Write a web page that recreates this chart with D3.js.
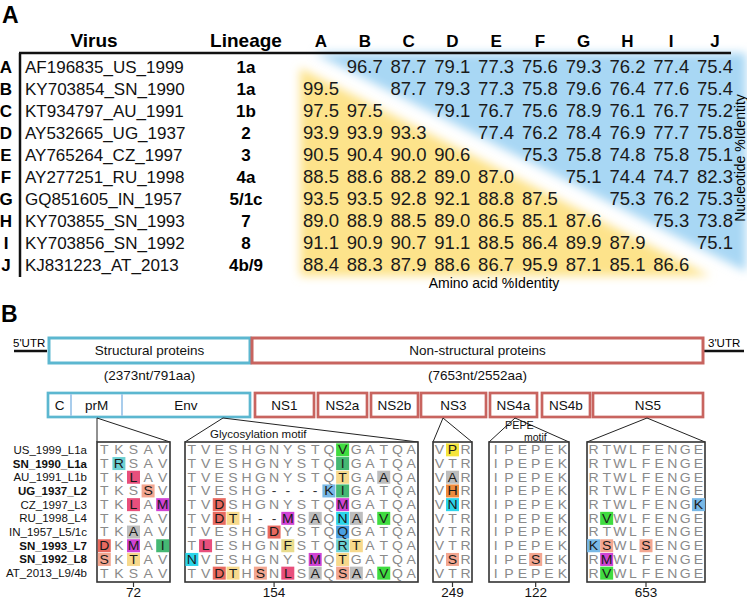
<!DOCTYPE html>
<html><head><meta charset="utf-8">
<script src="https://cdn.jsdelivr.net/npm/d3@7"></script>
<style>
body{margin:0;background:#fff;}
svg{display:block;font-family:"Liberation Sans",Arial,Helvetica,sans-serif;}
</style>
</head><body>
<svg id="chart" width="747" height="599"></svg>
<script>
// ---------------- DATA ----------------
const rowKeys = ["A","B","C","D","E","F","G","H","I","J"];
const viruses = ["AF196835_US_1999","KY703854_SN_1990","KT934797_AU_1991","AY532665_UG_1937","AY765264_CZ_1997",
  "AY277251_RU_1998","GQ851605_IN_1957","KY703855_SN_1993","KY703856_SN_1992","KJ831223_AT_2013"];
const lineages = ["1a","1a","1b","2","3","4a","5/1c","7","8","4b/9"];
// upper triangle: nucleotide %identity, lower triangle: amino acid %identity
const identity = [
  [null,96.7,87.7,79.1,77.3,75.6,79.3,76.2,77.4,75.4],
  [99.5,null,87.7,79.3,77.3,75.8,79.6,76.4,77.6,75.4],
  [97.5,97.5,null,79.1,76.7,75.6,78.9,76.1,76.7,75.2],
  [93.9,93.9,93.3,null,77.4,76.2,78.4,76.9,77.7,75.8],
  [90.5,90.4,90.0,90.6,null,75.3,75.8,74.8,75.8,75.1],
  [88.5,88.6,88.2,89.0,87.0,null,75.1,74.4,74.7,82.3],
  [93.5,93.5,92.8,92.1,88.8,87.5,null,75.3,76.2,75.3],
  [89.0,88.9,88.5,89.0,86.5,85.1,87.6,null,75.3,73.8],
  [91.1,90.9,90.7,91.1,88.5,86.4,89.9,87.9,null,75.1],
  [88.4,88.3,87.9,88.6,86.7,95.9,87.1,85.1,86.6,null]
];
const genomeParts = ["Structural proteins","Non-structural proteins"];
const genomeSizes = ["(2373nt/791aa)","(7653nt/2552aa)"];
const genes = ["C","prM","Env","NS1","NS2a","NS2b","NS3","NS4a","NS4b","NS5"];
const alignLabels = ["US_1999_L1a","SN_1990_L1a","AU_1991_L1b","UG_1937_L2","CZ_1997_L3","RU_1998_L4",
  "IN_1957_L5/1c","SN_1993_L7","SN_1992_L8","AT_2013_L9/4b"];
const alignBold = [false,true,false,true,false,false,false,true,true,false];
const regionNames = ["prM","Env","NS3","NS4a","NS5"];
const regionPositions = ["72","154","249","122","653"];
const regionTickIndex = [2,6,1,3,4];
const prMSeq = ["TKSAV","TRSAV","TKLAV","TKSSV","TKLAM","TKSAV","TKAAV","DKMAI","SKTAV","TKSAV"];
const prMMut = [".....",".t...","..p..","...s.","..p.m",".....","..a..","r.m.G","s.y..","....."];
const envSeq = ["TVESHGNYSTQVGATQA","TVESHGNYSTQIGATQA","TVESHGNYSTQTGAAQA","TVESHG----KIGATQA","TVDSHGNYSTQMGATQA",
  "TVDTH--MSAQNAAVQA","TVESHGDYSTQQGATQA","TLESHGNFSTQRTATQA","NVESHGNYSMQTGATQA","TVDTHSNLSAQSAAVQA"];
const envMut = ["...........g.....","...........G.....","...........y..a..","..........kG.....","..r........m.....",
  "..ry...m.a.ca.g..","......r....b.....",".p.....f...ty....","c........m.y.....","..ry.s.p.a.sa.g.."];
const ns3Seq = ["VPR","VTR","VAR","VHR","VNR","VTR","VTR","VTR","VSR","VTR"];
const ns3Mut = [".P.","...",".a.",".o.",".c.","...","...","...",".s.","..."];
const ns4aSeq = ["IPEPEK","IPEPEK","IPEPEK","IPEPEK","IPEPEK","IPEPEK","IPEPEK","IPEPEK","IPESEK","IPEPEK"];
const ns4aMut = ["......","......","......","......","......","......","......","......","...s..","......"];
const ns5Seq = ["RTWLFENGE","RTWLFENGE","RTWLFENGE","RTWLFENGE","RTWLFENGK","RVWLFENGE","RTWLFENGE","KSWLSENGE","RMWLFENGE","RVWLFENGE"];
const ns5Mut = [".........",".........",".........",".........","........k",".g.......",".........","ks..s....",".m.......",".g......."];

// ---------------- STYLE / LAYOUT ----------------
const mutColor = {g:"#40dc40",G:"#45b873",y:"#f7d98c",a:"#bdbdbd",k:"#78b8e6",r:"#e86a60",m:"#d143d4",
  c:"#2cd4ea",b:"#4a9fe2",t:"#6dd1d3",p:"#e84f7c",s:"#f3a690",f:"#e9dc8c",P:"#f5e53c",o:"#ef8c3e"};
const blueC = "#5cb7d0", redC = "#c8645f";
const geneX = [[48,71],[71,122],[122,250],[255,314],[318,367],[371,418],[421,486],[490,537],[542,590],[593,703]];
const regionBox = [[97,170],[185,418],[433,472],[489,569],[587,705]];
const regionApex = [97,223,443,515,647];

const svg = d3.select("#chart");
const fmt = d3.format(".1f");

// ---------------- PANEL A ----------------
const xCol = d3.scalePoint().domain(rowKeys).range([321,715]);
const yRow = d3.scalePoint().domain(rowKeys).range([66,264]);

const defs = svg.append("defs");
defs.append("filter").attr("id","soft").attr("x","-10%").attr("y","-10%").attr("width","120%").attr("height","120%")
  .append("feGaussianBlur").attr("stdDeviation",5);

const yl = xCol("A")-21, yt = yRow("A")+2, yb = yRow("J")+12;
svg.append("polygon")
  .attr("points",[[yl,yt],[yl,yb],[yl+(yb-yt)/0.507,yb]].map(p=>p.join(",")).join(" "))
  .attr("fill","#fde38b").attr("filter","url(#soft)");
const bl = xCol("A")-7, bt = 53, br = 746;
svg.append("polygon")
  .attr("points",[[bl,bt],[br,bt],[br,bt+(br-bl)*0.506]].map(p=>p.join(",")).join(" "))
  .attr("fill","#a8d7f4").attr("filter","url(#soft)");

svg.append("text").attr("x",2).attr("y",23).attr("font-size",23).attr("font-weight","bold").text("A");
svg.append("text").attr("x",94).attr("y",47).attr("text-anchor","middle").attr("font-size",19).attr("font-weight","bold").text("Virus");
svg.append("text").attr("x",246).attr("y",47).attr("text-anchor","middle").attr("font-size",19).attr("font-weight","bold").text("Lineage");
svg.append("g").selectAll("text").data(rowKeys).join("text")
  .attr("x",d=>xCol(d)).attr("y",47).attr("text-anchor","middle").attr("font-size",17).attr("font-weight","bold").text(d=>d);

svg.append("line").attr("x1",19).attr("x2",731).attr("y1",53).attr("y2",53).attr("stroke","#111").attr("stroke-width",2.5);
svg.append("line").attr("x1",20).attr("x2",20).attr("y1",53).attr("y2",277).attr("stroke","#111").attr("stroke-width",2.5);

const rowsA = svg.append("g").selectAll("g").data(rowKeys).join("g")
  .attr("transform",d=>`translate(0,${yRow(d)+6.5})`);
rowsA.append("text").attr("x",6).attr("text-anchor","middle").attr("font-size",17).attr("font-weight","bold").text(d=>d);
rowsA.append("text").attr("x",25).attr("font-size",17).attr("fill","#111").text((d,i)=>viruses[i]);
rowsA.append("text").attr("x",246).attr("text-anchor","middle").attr("font-size",17).attr("font-weight","bold").text((d,i)=>lineages[i]);
rowsA.selectAll("text.v").data((d,i)=>identity[i].map((v,j)=>({v,k:rowKeys[j]})).filter(o=>o.v!==null))
  .join("text").attr("class","v").attr("x",o=>xCol(o.k)).attr("text-anchor","middle").attr("font-size",18.5).attr("fill","#1a1a1a")
  .text(o=>fmt(o.v));

svg.append("text").attr("x",494).attr("y",288).attr("text-anchor","middle").attr("font-size",14).text("Amino acid %Identity");
svg.append("text").attr("transform","translate(745,158) rotate(-90)").attr("text-anchor","middle").attr("font-size",14).text("Nucleotide %Identity");

// ---------------- PANEL B ----------------
svg.append("text").attr("x",1).attr("y",322).attr("font-size",23).attr("font-weight","bold").text("B");

// UTRs
svg.append("text").attr("x",13).attr("y",347).attr("font-size",11.5).text("5'UTR");
svg.append("line").attr("x1",14).attr("x2",47).attr("y1",351).attr("y2",351).attr("stroke","#111").attr("stroke-width",2.7);
svg.append("text").attr("x",708).attr("y",347).attr("font-size",11.5).text("3'UTR");
svg.append("line").attr("x1",703).attr("x2",744).attr("y1",351).attr("y2",351).attr("stroke","#111").attr("stroke-width",2.7);

const genomeBox = [[49,250],[252,703]];
const gp = svg.append("g").selectAll("g").data(genomeParts).join("g");
gp.append("rect").attr("x",(d,i)=>genomeBox[i][0]).attr("width",(d,i)=>genomeBox[i][1]-genomeBox[i][0])
  .attr("y",338).attr("height",25).attr("fill","#fff").attr("stroke",(d,i)=>i?redC:blueC).attr("stroke-width",3);
gp.append("text").attr("x",(d,i)=>(genomeBox[i][0]+genomeBox[i][1])/2).attr("y",355).attr("text-anchor","middle")
  .attr("font-size",13.5).attr("fill","#111").text(d=>d);
gp.append("text").attr("x",(d,i)=>(genomeBox[i][0]+genomeBox[i][1])/2).attr("y",380).attr("text-anchor","middle")
  .attr("font-size",13.5).attr("fill","#111").text((d,i)=>genomeSizes[i]);

// genes
const gg = svg.append("g");
gg.append("rect").attr("x",48).attr("y",393).attr("width",202).attr("height",24).attr("fill","#fff").attr("stroke",blueC).attr("stroke-width",2.7);
gg.selectAll("line.div").data([1,2]).join("line").attr("class","div")
  .attr("x1",i=>geneX[i][0]).attr("x2",i=>geneX[i][0]).attr("y1",394).attr("y2",416).attr("stroke","#a9cdec").attr("stroke-width",2);
gg.selectAll("rect.ns").data(genes.slice(3)).join("rect").attr("class","ns")
  .attr("x",(d,i)=>geneX[i+3][0]).attr("width",(d,i)=>geneX[i+3][1]-geneX[i+3][0]).attr("y",393).attr("height",24)
  .attr("fill","#fff").attr("stroke",redC).attr("stroke-width",2.7);
gg.selectAll("text").data(genes).join("text").attr("x",(d,i)=>(geneX[i][0]+geneX[i][1])/2).attr("y",410)
  .attr("text-anchor","middle").attr("font-size",13.5).attr("fill","#111").text(d=>d);

// alignment
const yAl = d3.scaleBand().domain(d3.range(10)).range([443,580]);
svg.append("g").selectAll("text").data(alignLabels).join("text")
  .attr("x",87).attr("y",(d,i)=>yAl(i)+yAl.bandwidth()/2+4).attr("text-anchor","end").attr("font-size",11.5)
  .attr("font-weight",(d,i)=>alignBold[i]?"bold":"normal").attr("fill","#111").text(d=>d);

const regionSeqs = [prMSeq,envSeq,ns3Seq,ns4aSeq,ns5Seq];
const regionMuts = [prMMut,envMut,ns3Mut,ns4aMut,ns5Mut];
regionNames.forEach((name,r)=>{
  const [x0,x1] = regionBox[r];
  const seqs = regionSeqs[r], muts = regionMuts[r];
  const n = seqs[0].length;
  const xs = d3.scaleBand().domain(d3.range(n)).range([x0,x1]);
  const g = svg.append("g");
  g.append("polyline").attr("points",`${x0},442 ${regionApex[r]},418 ${x1},442`).attr("fill","none").attr("stroke","#222").attr("stroke-width",1);
  g.append("rect").attr("x",x0).attr("y",442).attr("width",x1-x0).attr("height",140).attr("fill","#fff")
    .attr("stroke","#333").attr("stroke-width",1.6);
  const cells = [];
  seqs.forEach((s,i)=>s.split("").forEach((ch,j)=>cells.push({i,j,ch,m:muts[i][j]})));
  g.selectAll("rect.h").data(cells.filter(c=>c.m!==".")).join("rect").attr("class","h")
    .attr("x",c=>xs(c.j)+xs.bandwidth()/2-6.5).attr("y",c=>yAl(c.i)+yAl.bandwidth()/2-6.5)
    .attr("width",13).attr("height",13).attr("fill",c=>mutColor[c.m]);
  g.selectAll("text.aa").data(cells).join("text").attr("class","aa")
    .attr("x",c=>xs(c.j)+xs.bandwidth()/2).attr("y",c=>yAl(c.i)+yAl.bandwidth()/2+4.4)
    .attr("text-anchor","middle").attr("font-size",12.2)
    .attr("transform",c=>{const cx=xs(c.j)+xs.bandwidth()/2, cy=yAl(c.i)+yAl.bandwidth()/2; return `translate(${cx},${cy}) scale(1.15,1) translate(${-cx},${-cy})`;})
    .attr("fill",c=>c.m!=="."?"#1a1a1a":(c.ch==="-"?"#333":"#8a8a8a")).text(c=>c.ch);
  const tx = xs(regionTickIndex[r])+xs.bandwidth()/2;
  g.append("line").attr("x1",tx).attr("x2",tx).attr("y1",582).attr("y2",587).attr("stroke","#333").attr("stroke-width",1.2);
  g.append("text").attr("x",tx).attr("y",597).attr("text-anchor","middle").attr("font-size",13.5).attr("fill","#111").text(regionPositions[r]);
});
svg.append("text").attr("x",210).attr("y",438).attr("font-size",11.5).attr("fill","#111").text("Glycosylation motif");
svg.append("text").attr("x",505).attr("y",429).attr("font-size",10.8).attr("fill","#111").text("PEPE");
svg.append("text").attr("x",524).attr("y",440.8).attr("font-size",10.5).attr("fill","#111").text("motif");
</script>
</body></html>
